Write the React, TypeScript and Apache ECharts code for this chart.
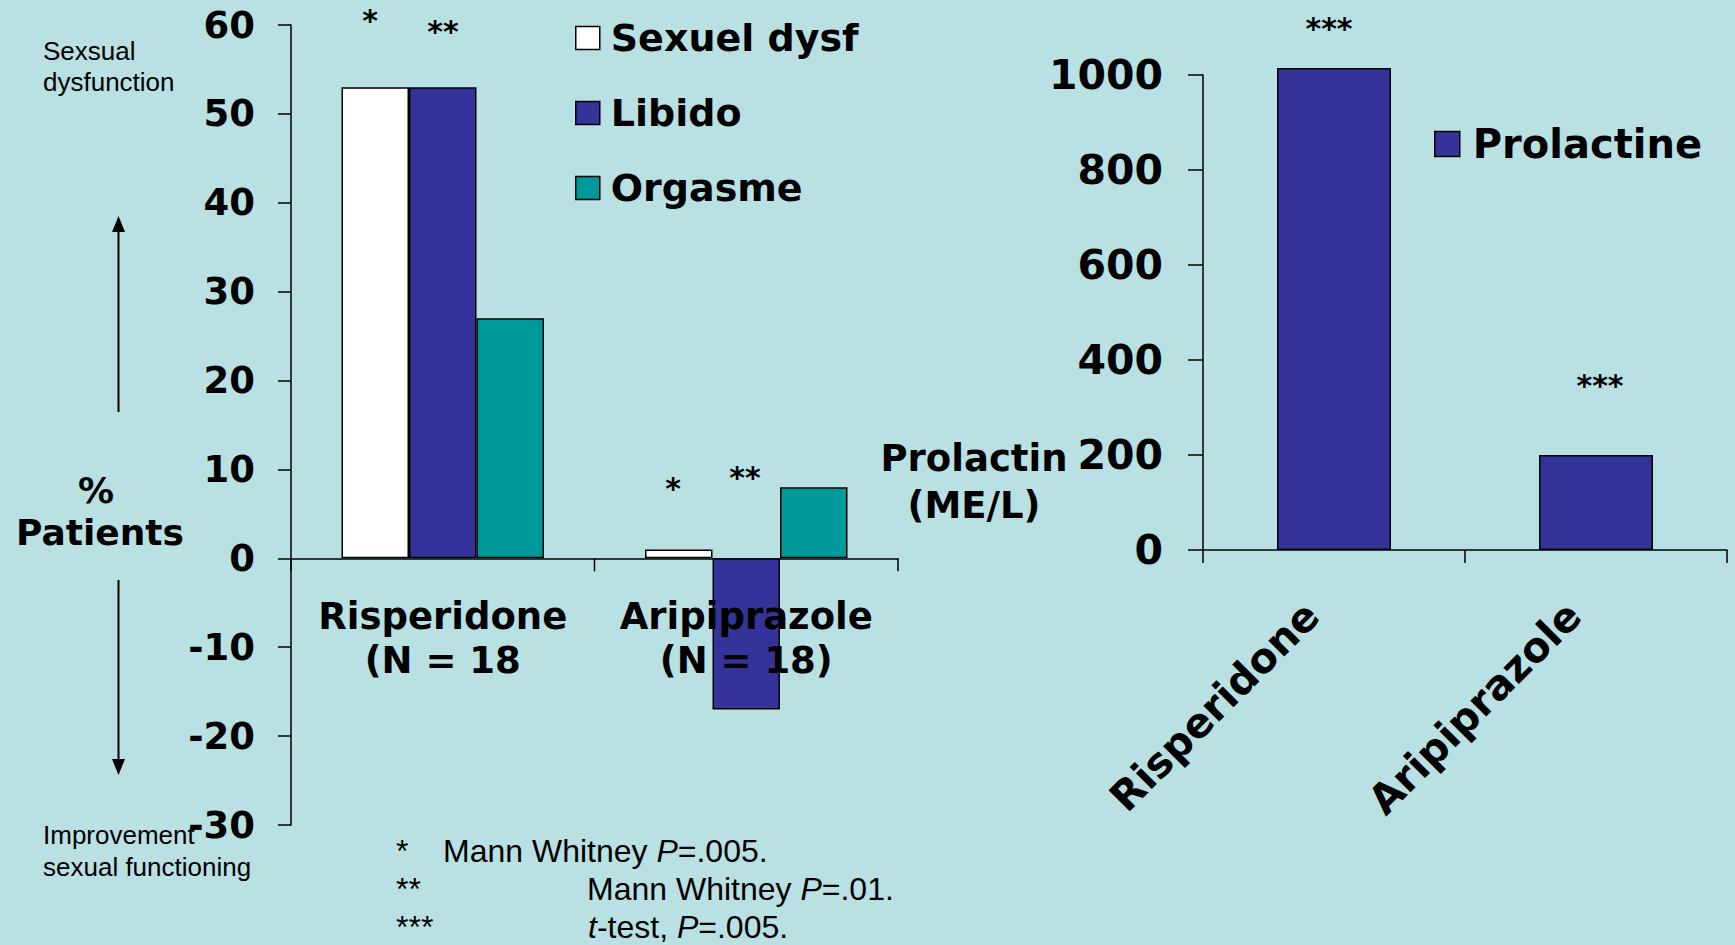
import React, { useEffect, useRef } from "react";
import * as echarts from "echarts";

// ---- data ----
const leftCategories = ["Risperidone\n(N = 18", "Aripiprazole\n(N = 18)"];
const sexuelDysf = [53, 1];
const libido = [53, -17];
const orgasme = [27, 8];
const leftMin = -30;
const leftMax = 60;
const leftInterval = 10;

const rightCategories = ["Risperidone", "Aripiprazole"];
const prolactine = [1015, 200];
const rightMin = 0;
const rightMax = 1000;
const rightInterval = 200;

const BOLD = "DejaVu Sans";
const PLAIN = "Liberation Sans";
const BLUE = "#333399";
const TEAL = "#009999";
const BG = "#B9E0E3";

function txt(text: string, x: number, y: number, size: number, bold: boolean, align: string = "center", extra: any = {}) {
  return {
    type: "text",
    x,
    y,
    z: 100,
    style: {
      text,
      fontSize: size,
      fontFamily: bold ? BOLD : PLAIN,
      fontWeight: bold ? "bold" : "normal",
      fill: "#000",
      align,
      verticalAlign: "middle",
      ...extra,
    },
  };
}

const italicRich = {
  i: { fontStyle: "italic", fontSize: 32, fontFamily: PLAIN, fill: "#000" },
};

export default function App() {
  const ref = useRef<HTMLDivElement>(null);
  useEffect(() => {
    const chart = echarts.init(ref.current!, null, { renderer: "svg" });
    const axisLineStyle = { color: "#000", width: 1.5 };
    const option: any = {
      animation: false,
      backgroundColor: BG,
      grid: [
        { left: 291, top: 25, width: 607, height: 800 },
        { left: 1203, top: 75, width: 524, height: 475 },
      ],
      legend: [
        {
          data: ["Sexuel dysf", "Libido", "Orgasme"],
          orient: "vertical",
          left: 575,
          top: 19,
          padding: 0,
          itemWidth: 24,
          itemHeight: 23,
          itemGap: 37,
          icon: "rect",
          itemStyle: { borderColor: "#000", borderWidth: 1.5 },
          textStyle: {
            fontSize: 38,
            fontWeight: "bold",
            fontFamily: BOLD,
            color: "#000",
            lineHeight: 38,
            padding: [0, 0, 0, 6],
          },
        },
        {
          data: ["Prolactine"],
          orient: "vertical",
          left: 1434,
          top: 124,
          padding: 0,
          itemWidth: 25,
          itemHeight: 25,
          icon: "rect",
          itemStyle: { borderColor: "#000", borderWidth: 1.5 },
          textStyle: {
            fontSize: 40,
            fontWeight: "bold",
            fontFamily: BOLD,
            color: "#000",
            lineHeight: 40,
            padding: [0, 0, 0, 8],
          },
        },
      ],
      xAxis: [
        {
          type: "category",
          gridIndex: 0,
          data: leftCategories,
          axisLine: { onZero: true, lineStyle: axisLineStyle },
          axisTick: { show: false },
          axisLabel: { show: false },
        },
        {
          type: "category",
          gridIndex: 1,
          data: rightCategories,
          axisLine: { onZero: true, lineStyle: axisLineStyle },
          axisTick: { show: true, length: 13, lineStyle: axisLineStyle },
          axisLabel: {
            interval: 0,
            fontSize: 41,
            fontWeight: "bold",
            fontFamily: BOLD,
            color: "#000",
            rotate: 45,
            margin: 37,
            padding: [0, 31, 0, 0],
          },
        },
      ],
      yAxis: [
        {
          type: "value",
          gridIndex: 0,
          min: leftMin,
          max: leftMax,
          interval: leftInterval,
          splitLine: { show: false },
          axisLine: { show: true, lineStyle: axisLineStyle },
          axisTick: { show: true, length: 13, lineStyle: axisLineStyle },
          axisLabel: {
            fontSize: 37,
            fontWeight: "bold",
            fontFamily: BOLD,
            color: "#000",
            margin: 36,
            formatter: (v: number) => String(v),
          },
        },
        {
          type: "value",
          gridIndex: 1,
          min: rightMin,
          max: rightMax,
          interval: rightInterval,
          splitLine: { show: false },
          axisLine: { show: true, lineStyle: axisLineStyle },
          axisTick: { show: true, length: 15, lineStyle: axisLineStyle },
          axisLabel: {
            fontSize: 41,
            fontWeight: "bold",
            fontFamily: BOLD,
            color: "#000",
            margin: 40,
            formatter: (v: number) => String(v),
          },
        },
      ],
      series: [
        {
          name: "Sexuel dysf",
          type: "bar",
          xAxisIndex: 0,
          yAxisIndex: 0,
          data: sexuelDysf,
          barWidth: 67.5,
          barGap: "0%",
          itemStyle: { color: "#FFFFFF", borderColor: "#000", borderWidth: 1.5 },
        },
        {
          name: "Libido",
          type: "bar",
          xAxisIndex: 0,
          yAxisIndex: 0,
          data: libido,
          barWidth: 67.5,
          barGap: "0%",
          itemStyle: { color: BLUE, borderColor: "#000", borderWidth: 1.5 },
        },
        {
          name: "Orgasme",
          type: "bar",
          xAxisIndex: 0,
          yAxisIndex: 0,
          data: orgasme,
          barWidth: 67.5,
          barGap: "0%",
          itemStyle: { color: TEAL, borderColor: "#000", borderWidth: 1.5 },
        },
        {
          name: "Prolactine",
          type: "bar",
          xAxisIndex: 1,
          yAxisIndex: 1,
          data: prolactine,
          barWidth: 114,
          clip: false,
          itemStyle: { color: BLUE, borderColor: "#000", borderWidth: 1.5 },
        },
      ],
    };
    chart.setOption(option);

    // Left category axis: ticks and labels placed on the zero line via the chart's own scales
    const zeroY = chart.convertToPixel({ yAxisIndex: 0 }, 0) as number;
    const centers = leftCategories.map((_, i) => chart.convertToPixel({ xAxisIndex: 0 }, i) as number);
    const band = centers.length > 1 ? centers[1] - centers[0] : 300;
    const axisGraphics: any[] = [];
    const tickXs = [centers[0] - band / 2, ...centers.map((c) => c + band / 2)];
    tickXs.forEach((x) => {
      axisGraphics.push({
        type: "line",
        z: 100,
        shape: { x1: x, y1: zeroY, x2: x, y2: zeroY + 13 },
        style: { stroke: "#000", lineWidth: 1.5 },
      });
    });
    leftCategories.forEach((cat, i) => {
      cat.split("\n").forEach((line, j) => {
        axisGraphics.push(txt(line, centers[i], zeroY + 58 + j * 44, 37, true));
      });
    });

    const graphics: any[] = [
      // left side annotations
      txt("Sexsual", 43, 51, 26, false, "left"),
      txt("dysfunction", 43, 82, 26, false, "left"),
      txt("Improvement", 43, 835, 26, false, "left"),
      txt("sexual functioning", 43, 867, 26, false, "left"),
      txt("%", 96, 490, 36, true),
      txt("Patients", 100, 532, 36, true),
      txt("Prolactin", 974, 458, 37, true),
      txt("(ME/L)", 974, 505, 37, true),
      // arrows
      { type: "line", shape: { x1: 118.5, y1: 412, x2: 118.5, y2: 228 }, style: { stroke: "#000", lineWidth: 2 } },
      { type: "polygon", shape: { points: [[118.5, 216], [112, 232], [125, 232]] }, style: { fill: "#000" } },
      { type: "line", shape: { x1: 118.5, y1: 580, x2: 118.5, y2: 763 }, style: { stroke: "#000", lineWidth: 2 } },
      { type: "polygon", shape: { points: [[118.5, 775], [112, 759], [125, 759]] }, style: { fill: "#000" } },
      // significance markers
      txt("*", 370, 20, 30, true),
      txt("**", 443, 31, 30, true),
      txt("*", 673, 488, 30, true),
      txt("**", 745, 477, 30, true),
      txt("***", 1329, 28, 30, true),
      txt("***", 1600, 385, 30, true),
      // footnotes
      txt("*", 396, 851, 32, false, "left"),
      txt("Mann Whitney {i|P}=.005.", 443, 851, 32, false, "left", { rich: italicRich }),
      txt("**", 396, 889, 32, false, "left"),
      txt("Mann Whitney {i|P}=.01.", 587, 889, 32, false, "left", { rich: italicRich }),
      txt("***", 396, 927, 32, false, "left"),
      txt("{i|t}-test, {i|P}=.005.", 588, 927, 32, false, "left", { rich: italicRich }),
      ...axisGraphics,
    ];
    chart.setOption({ graphic: graphics });
    return () => chart.dispose();
  }, []);
  return (
    <div
      ref={ref}
      style={{ position: "fixed", left: 0, top: 0, width: 1735, height: 945 }}
    />
  );
}
